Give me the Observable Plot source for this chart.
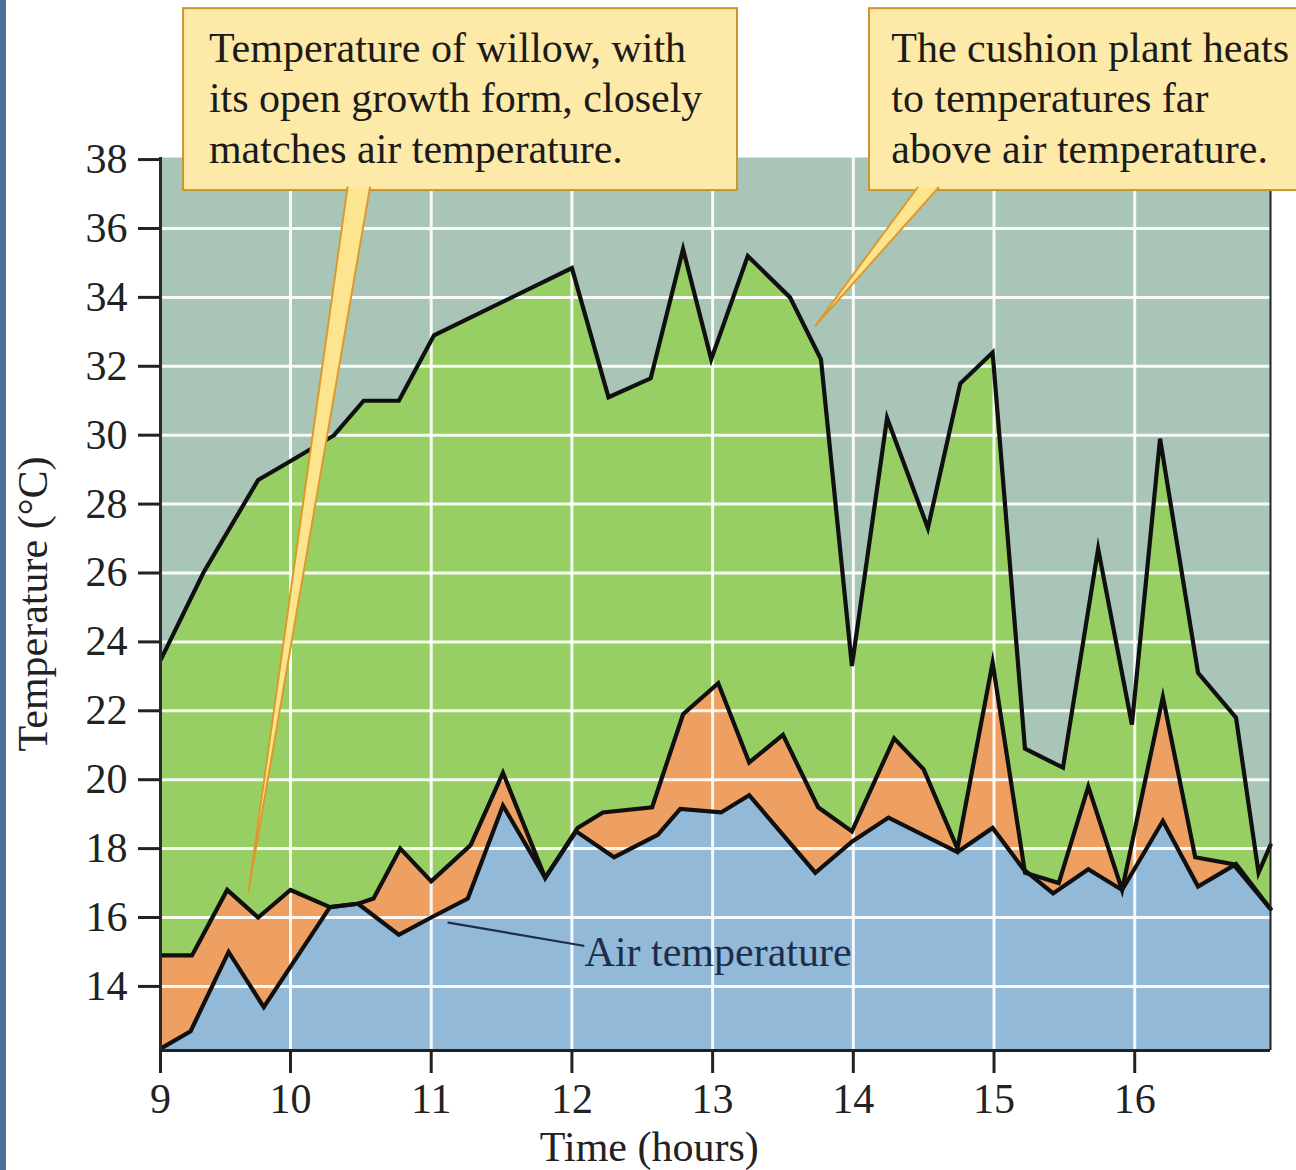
<!DOCTYPE html>
<html>
<head>
<meta charset="utf-8">
<script src="https://cdn.jsdelivr.net/npm/d3@7"></script>
<script src="https://cdn.jsdelivr.net/npm/@observablehq/plot@0.6"></script>
<style>
  html, body { margin: 0; padding: 0; background: #ffffff; }
  #wrap { position: relative; width: 1296px; height: 1170px; overflow: hidden; background: #ffffff; }
  #strip { position: absolute; left: 0; top: 0; width: 6px; height: 1170px; background: #4b709c; }
</style>
</head>
<body>
<div id="wrap"><div id="chart"></div><div id="strip"></div></div>
<script>
// ---------- data ----------
const cushionHours = [9.08, 9.38, 9.77, 9.98, 10.31, 10.52, 10.77, 11.02, 12.00, 12.26, 12.56, 12.79, 12.99, 13.25, 13.55, 13.77, 13.99, 14.24, 14.53, 14.76, 14.99, 15.22, 15.49, 15.74, 15.98, 16.18, 16.45, 16.72, 16.88, 16.965];
const cushionTemps = [23.5, 26.0, 28.7, 29.2, 30.0, 31.0, 31.0, 32.9, 34.85, 31.1, 31.65, 35.4, 32.2, 35.2, 34.0, 32.2, 23.3, 30.5, 27.3, 31.5, 32.4, 20.9, 20.35, 26.7, 21.6, 29.9, 23.1, 21.8, 17.3, 18.1];

const willowHours = [9.08, 9.30, 9.55, 9.77, 10.00, 10.28, 10.48, 10.59, 10.78, 11.00, 11.28, 11.51, 11.81, 12.04, 12.22, 12.57, 12.79, 13.04, 13.26, 13.50, 13.75, 13.99, 14.29, 14.50, 14.74, 14.99, 15.22, 15.46, 15.67, 15.91, 16.20, 16.43, 16.70, 16.965];
const willowTemps = [14.9, 14.9, 16.8, 16.0, 16.8, 16.3, 16.4, 16.55, 18.0, 17.05, 18.1, 20.2, 17.15, 18.6, 19.05, 19.2, 21.9, 22.8, 20.5, 21.3, 19.2, 18.5, 21.2, 20.3, 18.0, 23.4, 17.3, 17.0, 19.8, 16.8, 22.4, 17.75, 17.55, 16.25];

const airHours = [9.08, 9.29, 9.56, 9.81, 10.28, 10.48, 10.77, 11.00, 11.26, 11.51, 11.81, 12.03, 12.30, 12.61, 12.77, 13.06, 13.26, 13.73, 13.99, 14.25, 14.74, 14.99, 15.21, 15.42, 15.67, 15.91, 16.20, 16.45, 16.72, 16.965];
const airTemps = [12.2, 12.7, 15.0, 13.4, 16.3, 16.4, 15.5, 16.0, 16.55, 19.25, 17.15, 18.5, 17.75, 18.4, 19.15, 19.05, 19.55, 17.3, 18.2, 18.9, 17.9, 18.6, 17.4, 16.7, 17.4, 16.8, 18.8, 16.9, 17.55, 16.25];

const xTickLabels = ["9", "10", "11", "12", "13", "14", "15", "16"];
const yTickValues = [14, 16, 18, 20, 22, 24, 26, 28, 30, 32, 34, 36, 38];

const willowNote = "Temperature of willow, with\nits open growth form, closely\nmatches air temperature.";
const cushionNote = "The cushion plant heats\nto temperatures far\nabove air temperature.";
const airNote = "Air temperature";
const xTitle = "Time (hours)";
const yTitle = "Temperature (°C)";

// ---------- scale extents ----------
const X_MIN = 9.076, X_MAX = 16.965, Y_MIN = 12.14, Y_MAX = 38.06;
const xTickValues = [X_MIN, 10, 11, 12, 13, 14, 15, 16];
const xGrid = [10, 11, 12, 13, 14, 15, 16];
const yGrid = [14, 16, 18, 20, 22, 24, 26, 28, 30, 32, 34, 36];

const toRows = (hs, vs) => hs.map((t, i) => ({t, v: vs[i]}));
const cushion = toRows(cushionHours, cushionTemps);
const willow = toRows(willowHours, willowTemps);
const air = toRows(airHours, airTemps);

// ---------- annotation geometry (data units) ----------
const boxes = [
  {x1: 9.240, x2: 13.177, y1: 37.10, y2: 42.38},
  {x1: 14.115, x2: 17.25, y1: 37.10, y2: 42.38}
];
const wedge1 = [{x: 10.405, y: 37.19}, {x: 9.701, y: 16.75}, {x: 10.565, y: 37.19}];
const wedge2 = [{x: 14.456, y: 37.19}, {x: 13.731, y: 33.18}, {x: 14.606, y: 37.19}];
const airLeader = [{x: 11.123, y: 15.85}, {x: 12.082, y: 15.18}];

const serif = "'Liberation Serif', 'Times New Roman', Times, serif";
const FS = 42;

const chart = Plot.plot({
  width: 1296,
  height: 1170,
  marginTop: 157,
  marginBottom: 120,
  marginLeft: 160,
  marginRight: 26,
  x: {domain: [X_MIN, X_MAX]},
  y: {domain: [Y_MIN, Y_MAX]},
  style: {fontFamily: serif, background: "transparent", color: "#222"},
  marks: [
    Plot.frame({fill: "#a8c5b8", stroke: "none"}),
    Plot.areaY(cushion, {x: "t", y1: Y_MIN, y2: "v", fill: "#98cf64"}),
    Plot.areaY(willow, {x: "t", y1: Y_MIN, y2: "v", fill: "#eea062"}),
    Plot.areaY(air, {x: "t", y1: Y_MIN, y2: "v", fill: "#93b9d9"}),
    Plot.gridX(xGrid, {stroke: "#ffffff", strokeOpacity: 0.9, strokeWidth: 3}),
    Plot.gridY(yGrid, {stroke: "#ffffff", strokeOpacity: 0.9, strokeWidth: 3}),
    Plot.line(cushion, {x: "t", y: "v", stroke: "#101010", strokeWidth: 4.2, strokeLinejoin: "miter", strokeMiterlimit: 6}),
    Plot.line(willow, {x: "t", y: "v", stroke: "#101010", strokeWidth: 4.2, strokeLinejoin: "miter", strokeMiterlimit: 6}),
    Plot.line(air, {x: "t", y: "v", stroke: "#101010", strokeWidth: 4.2, strokeLinejoin: "miter", strokeMiterlimit: 6}),
    Plot.ruleX([X_MIN], {stroke: "#2a2a2a", strokeWidth: 3}),
    Plot.ruleX([X_MAX], {stroke: "#222", strokeWidth: 2}),
    Plot.ruleY([Y_MIN], {stroke: "#222", strokeWidth: 3}),
    Plot.axisY(yTickValues, {tickSize: 22, tickPadding: 11, fontSize: FS, strokeWidth: 3, label: null, tickFormat: d => String(d)}),
    Plot.axisX(xTickValues, {tickSize: 23, tickPadding: 10, fontSize: FS, strokeWidth: 3, label: null, tickFormat: (d, i) => xTickLabels[i]}),
    Plot.text([yTitle], {frameAnchor: "left", rotate: -90, dx: -114, lineAnchor: "bottom", textAnchor: "middle", fontSize: FS, fontFamily: serif, fill: "#222"}),
    Plot.text([xTitle], {x: 12.55, frameAnchor: "bottom", dy: 110, lineAnchor: "bottom", textAnchor: "middle", fontSize: FS, fontFamily: serif, fill: "#222"}),
    // air temperature label
    Plot.line(airLeader, {x: "x", y: "y", stroke: "#1e2d4a", strokeWidth: 2.2}),
    Plot.text([airNote], {x: 12.09, y: 14.60, lineAnchor: "bottom", textAnchor: "start", fontSize: FS, fontFamily: serif, fill: "#1e2d4a"}),
    // callout boxes
    Plot.rect(boxes, {x1: "x1", x2: "x2", y1: "y1", y2: "y2", fill: "#fde9a8", stroke: "#c9962f", strokeWidth: 2}),
    Plot.line(wedge1, {x: "x", y: "y", fill: "#fde48f", stroke: "#dc9a2c", strokeWidth: 2, strokeLinejoin: "round"}),
    Plot.line(wedge2, {x: "x", y: "y", fill: "#fde48f", stroke: "#dc9a2c", strokeWidth: 2, strokeLinejoin: "round"}),
    Plot.text([willowNote], {x: 9.42, y: 37.91, lineAnchor: "bottom", textAnchor: "start", lineHeight: 1.2, fontSize: FS, fontFamily: serif, fill: "#1b1b1b"}),
    Plot.text([cushionNote], {x: 14.27, y: 37.91, lineAnchor: "bottom", textAnchor: "start", lineHeight: 1.2, fontSize: FS, fontFamily: serif, fill: "#1b1b1b"})
  ]
});
document.getElementById("chart").appendChild(chart);
</script>
</body>
</html>
